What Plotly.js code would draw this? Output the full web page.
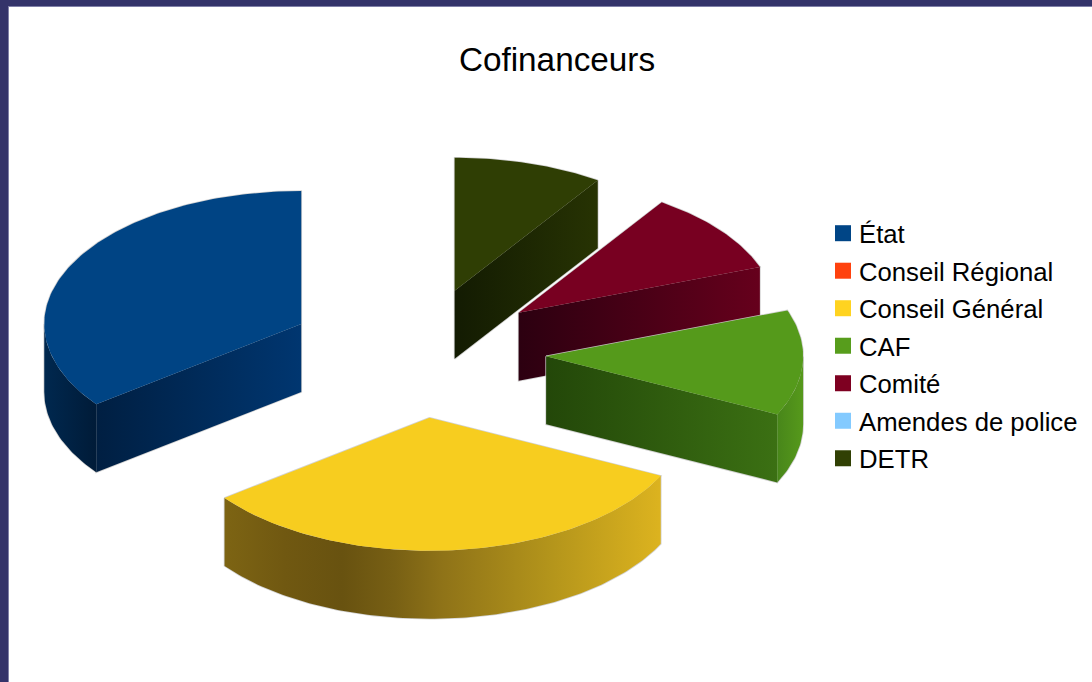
<!DOCTYPE html>
<html>
<head>
<meta charset="utf-8">
<script src="https://cdn.plot.ly/plotly-3.0.1.min.js"></script>
<style>
html,body{margin:0;padding:0;background:#34336a;width:1092px;height:682px;overflow:hidden}
#chart{position:absolute;left:9px;top:7px;width:1083px;height:675px;box-shadow:0 0 0 1px #8080a8}
</style>
</head>
<body>
<div id="chart"></div>
<script>
const categories = ["État","Conseil Régional","Conseil Général","CAF","Comité","Amendes de police","DETR"];
const values = [35.3,0,32.5,12.8,10,0,9.4];
const legendColors = ["#004586","#ff420e","#ffd320","#579d1c","#7e0021","#83caff","#314004"];
const topColors = ["#004484","#ff420e","#f7cd1f","#559a1b","#780021","#83caff","#2f3e04"];
// left-to-right shading of the radial wall and of the rounded wall of each slice
const wallShades = [
  ["#001f42","#003670"],null,null,["#234709","#3b7013"],["#2c0010","#66001c"],null,["#131b02","#273303"]
];
const rimShades = [
  [[0,"#00284f"],[1,"#001b38"]],null,
  [[0,"#7d6413"],[0.14,"#705811"],[0.27,"#685210"],[0.39,"#786014"],[0.5,"#8f7318"],[0.75,"#b4951b"],[1,"#dcb31f"]],
  [[0,"#48861a"],[1,"#56991b"]],null,null,null
];

const PX = 257;                // pixels per unit radius
const centerPx = [417,353];    // pie centre in the page
const tilt = 133/257, depth = 68/257, explodeX = 0.503, explodeY = 0.489;
const W = 1083, H = 675, offX = 9, offY = 7;

const total = values.reduce((a,b)=>a+b,0);
const rad = d=>d*Math.PI/180;
let traces = [], slices = [], cursor = 360;
values.forEach((v,i)=>{
  if(v<=0) return;
  const hi = cursor, lo = cursor - v/total*360; cursor = lo;
  const mid = (hi+lo)/2;
  slices.push({i,lo,hi,ax:explodeX*Math.sin(rad(mid)),ay:explodeY*Math.cos(rad(mid))*tilt});
});
slices.sort((a,b)=>b.ay-a.ay);

function poly(x,y,extra){
  return Object.assign({type:"scatter",mode:"lines",x:x.concat([x[0]]),y:y.concat([y[0]]),
    fill:"toself",line:{width:0},showlegend:false,hoverinfo:"skip"},extra);
}
const HALO = {fill:"none",line:{width:1.6,color:"rgba(205,205,205,0.9)"}};
slices.forEach(s=>{
  const P = t=>[s.ax+Math.sin(rad(t)), s.ay+Math.cos(rad(t))*tilt];
  const faces = [];
  // top face
  const tx=[s.ax], ty=[s.ay];
  for(let t=s.lo;;t=Math.min(t+1,s.hi)){const p=P(t);tx.push(p[0]);ty.push(p[1]);if(t>=s.hi)break;}
  // visible radial wall
  const wallAngle = Math.sin(rad(s.lo))<-1e-6 ? s.lo : (Math.sin(rad(s.hi))>1e-6 ? s.hi : null);
  if(wallAngle!==null && wallShades[s.i]){
    const e=P(wallAngle);
    const x=[s.ax,e[0],e[0],s.ax], y=[s.ay,e[1],e[1]-depth,s.ay-depth];
    const shade=wallShades[s.i];
    faces.push({x,y,extra:{fillgradient:{type:"horizontal",colorscale:[[0,shade[0]],[1,shade[1]]]}}});
  }
  // visible part of rounded wall
  const a=Math.max(s.lo,90), b=Math.min(s.hi,270);
  if(b>a && rimShades[s.i]){
    const x=[],y=[];
    for(let t=a;;t=Math.min(t+1,b)){const p=P(t);x.push(p[0]);y.push(p[1]);if(t>=b)break;}
    for(let t=b;;t=Math.max(t-1,a)){const p=P(t);x.push(p[0]);y.push(p[1]-depth);if(t<=a)break;}
    faces.push({x,y,extra:{fillgradient:{type:"horizontal",colorscale:rimShades[s.i]}}});
  }
  faces.push({x:tx,y:ty,extra:{fillcolor:topColors[s.i]}});
  faces.forEach(f=>traces.push(poly(f.x,f.y,HALO)));
  faces.forEach(f=>traces.push(poly(f.x,f.y,f.extra)));
});
// legend entries
categories.forEach((c,i)=>traces.push({type:"scatter",mode:"markers",x:[null],y:[null],name:c,
  legendgroup:"g"+i,showlegend:true,hoverinfo:"skip",
  marker:{symbol:"square",size:16,color:legendColors[i],line:{width:0}}}));

const layout = {
  width:W,height:H,margin:{l:0,r:0,t:0,b:0,autoexpand:false},
  paper_bgcolor:"#ffffff",plot_bgcolor:"#ffffff",
  font:{family:"Liberation Sans, Arial, sans-serif",color:"#000000"},
  title:{text:"Cofinanceurs",font:{size:33.3,color:"#000000"},xref:"paper",yref:"paper",
    x:(557-offX)/W,xanchor:"center",y:1-(59-offY)/H,yanchor:"middle"},
  xaxis:{visible:false,fixedrange:true,
    range:[(offX-centerPx[0])/PX,(offX+W-centerPx[0])/PX]},
  yaxis:{visible:false,fixedrange:true,
    range:[(centerPx[1]-offY-H)/PX,(centerPx[1]-offY)/PX]},
  showlegend:true,
  legend:{x:(819-offX)/W,xanchor:"left",y:1-(210-offY)/H,yanchor:"top",
    bgcolor:"rgba(0,0,0,0)",borderwidth:0,traceorder:"grouped",tracegroupgap:1.1,
    font:{size:25.7,color:"#000000"},itemclick:false,itemdoubleclick:false}
};
Plotly.newPlot("chart",traces,layout,{displayModeBar:false,staticPlot:true}).then(()=>{
  document.querySelectorAll("#chart .legendsymbols").forEach(g=>g.setAttribute("transform","translate(4,0)"));
});
</script>
</body>
</html>
